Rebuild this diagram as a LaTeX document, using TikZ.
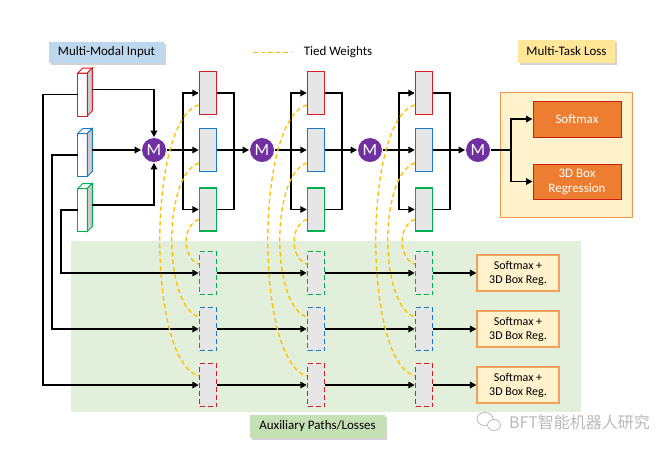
\documentclass[tikz,border=0pt]{standalone}
\usepackage{fontspec}
\setmainfont{Carlito}
\newfontfamily\cjk{Noto Sans CJK SC}
\usepackage{tikz}
\usetikzlibrary{positioning,arrows.meta,shadows}
\definecolor{cred}{RGB}{215,30,35}
\definecolor{cblue}{RGB}{30,120,200}
\definecolor{cgreen}{RGB}{0,176,80}
\definecolor{cgray}{RGB}{230,230,230}
\definecolor{cpurple}{RGB}{112,48,160}
\definecolor{ctask}{RGB}{237,125,49}
\definecolor{ctaskline}{RGB}{200,30,20}
\definecolor{closs}{RGB}{255,242,204}
\definecolor{clossline}{RGB}{244,160,90}
\definecolor{cboxline}{RGB}{247,150,70}
\definecolor{cauxbg}{RGB}{226,239,218}
\definecolor{cauxtag}{RGB}{197,224,180}
\definecolor{cinput}{RGB}{189,215,238}
\definecolor{ctag}{RGB}{255,230,153}
\definecolor{ctied}{RGB}{255,192,0}
\tikzset{
    every node/.style={
        font=\fontsize{13}{15}\selectfont
    },
    blk/.style={
        rectangle, draw, fill=cgray,
        line width=1.4pt,
        minimum width=17pt, minimum height=43pt,
        inner sep=0pt
    },
    ablk/.style={
        blk,
        line width=1.5pt,
        dash pattern=on 5pt off 3pt
    },
    inbox/.style={
        rectangle, draw, fill=white,
        line width=1pt,
        minimum width=9.5pt, minimum height=43pt,
        inner sep=0pt, outer sep=0pt
    },
    merge/.style={
        circle, fill=cpurple, text=white,
        minimum size=24pt, inner sep=0pt,
        font=\fontsize{17}{17}\selectfont
    },
    tag/.style={
        rectangle, inner sep=0pt,
        drop shadow={shadow xshift=1.5pt, shadow yshift=-2pt, opacity=0.35}
    },
    task/.style={
        rectangle, draw=ctaskline, fill=ctask, text=white,
        line width=1pt,
        minimum width=88pt, minimum height=36pt,
        align=center, inner sep=1pt
    },
    aloss/.style={
        rectangle, draw=clossline, fill=closs,
        line width=1.2pt,
        minimum width=82pt, minimum height=36pt,
        align=center, inner sep=1pt,
        font=\fontsize{12}{14}\selectfont
    }
}

\begin{document}
\begin{tikzpicture}[
		x=1pt, y=-1pt,
		line width=1.8pt,
		>={Triangle[length=6.5pt,width=6.5pt]},
		main/.style={line width=2.8pt},
		tied/.style={draw=ctied, line width=1.35pt, dash pattern=on 4.5pt off 3pt}
		]
		\useasboundingbox (0,0) rectangle (671,451);
		
		% backgrounds
		\fill[cauxbg] (71,241) rectangle (581,412);
		\filldraw[fill=closs, draw=cboxline, line width=1pt] (500,92) rectangle (632,217);
		
		\node (mmi) at (106.5,52.5) [tag, fill=cinput, minimum width=115pt, minimum height=21pt] {Multi-Modal Input};
		\node (mtl) at (566.5,51.5) [tag, fill=ctag, minimum width=97pt, minimum height=23pt] {Multi-Task Loss};
		\node (apl) at (317.5,426.5) [tag, fill=cauxtag, minimum width=135pt, minimum height=23pt] {Auxiliary Paths/Losses};
		
		\node (tw) at (338,52.5) {Tied Weights};
		\coordinate (tw1) at (253,52.5);
		
		% inputs
		\foreach \n/\y/\c in {inr/94.5/cred, inb/155/cblue, ing/210/cgreen} {
			\node (\n) at (82.5,\y) [inbox, draw=\c] {};
			\filldraw[draw=\c, fill=white, line width=1pt] (\n.north west) -- ++(5,-5) -- ++(9.5,0) -- (\n.north east) -- cycle;
			\filldraw[draw=\c, fill=gray!40, line width=1pt] (\n.north east) -- ++(5,-5) -- ++(0,43) -- (\n.south east) -- cycle;
		}
		
		% stages
		\foreach \s/\x in {1/208, 2/316, 3/424} {
			\node (m\s) at (\x-54,150) [merge] {M};
			\node (r\s) at (\x,93) [blk, draw=cred] {};
			\node (b\s) at (\x,150) [blk, draw=cblue] {};
			\node (g\s) at (\x,209.5) [blk, draw=cgreen] {};
			\node (ag\s) at (\x,273) [ablk, draw=cgreen] {};
			\node (ab\s) at (\x,329) [ablk, draw=cblue] {};
			\node (ar\s) at (\x,385) [ablk, draw=cred] {};
			\coordinate (i\s) at (\x-25,150);
			\coordinate (o\s) at (\x+26,150);
		}
		\node (m4) at (478,150) [merge] {M};
		
		\node (sm) at (577,119) [task] {Softmax};
		\node (bx) at (577,181.5) [task, minimum height=35pt] {3D Box\\Regression};
		\coordinate (o4) at (511,150);
		
		\node (lossg) at (518,273) [aloss] {Softmax +\\3D Box Reg.};
		\node (lossb) at (518,329) [aloss] {Softmax +\\3D Box Reg.};
		\node (lossr) at (518,385) [aloss] {Softmax +\\3D Box Reg.};
		
		\coordinate (lr) at (43,385);
		\coordinate (lb) at (52,329);
		\coordinate (lg) at (61,273);
		
		\draw [->] ([shift={(5pt,5pt)}]inr.east) -| (m1);
		\draw [->] ([shift={(5pt,5pt)}]inb.east) -- (m1);
		\draw [->] ([shift={(5pt,5pt)}]ing.east) -| (m1);
		\draw [->] (inr.west) -| (lr) -- (ar1);
		\draw [->] (inb.west) -| (lb) -- (ab1);
		\draw [->] (ing.west) -| (lg) -- (ag1);
		
		\foreach \s/\n in {1/2, 2/3, 3/4} {
			\draw [main,->] (m\s) -- (b\s);
			\draw [->] (i\s) |- (r\s);
			\draw [->] (i\s) |- (g\s);
			\draw (r\s) -| (o\s);
			\draw (g\s) -| (o\s);
			\draw (b\s) -- (o\s);
			\draw [main,->] (o\s) -- (m\n);
		}
		
		\draw [main] (m4) -- (o4);
		\draw [->] (o4) |- (sm);
		\draw [->] (o4) |- (bx);
		
		\foreach \c in {g, b, r} {
			\draw [->] (a\c1) -- (a\c2);
			\draw [->] (a\c2) -- (a\c3);
			\draw [->] (a\c3) -- (loss\c);
		}
		
		% tied weights
		\draw [tied] (tw1) -- ([xshift=-9pt]tw.west);
		\foreach \s in {1, 2, 3} {
			\draw [tied] ([yshift=-12pt]r\s.west) .. controls +(-52,15) and +(-52,-15) .. ([yshift=9pt]ar\s.west);
			\draw [tied] ([yshift=-13pt]b\s.west) .. controls +(-36,12) and +(-36,-12) .. ([yshift=12pt]ab\s.west);
			\draw [tied] ([yshift=-10pt]g\s.west) .. controls +(-17,6) and +(-17,-6) .. ([yshift=9pt]ag\s.west);
		}
		
		% watermark
		\draw [gray!55, line width=0.8pt] (485,419) ellipse (8 and 6.5);
		\filldraw [draw=gray!55, fill=white, line width=0.8pt] (494,425) ellipse (6.5 and 5.5);
		\node (wm) at (579.5,422) [text=gray!55, font=\cjk\fontsize{16}{17}\selectfont] {BFT智能机器人研究};
	\end{tikzpicture}
\end{document}
